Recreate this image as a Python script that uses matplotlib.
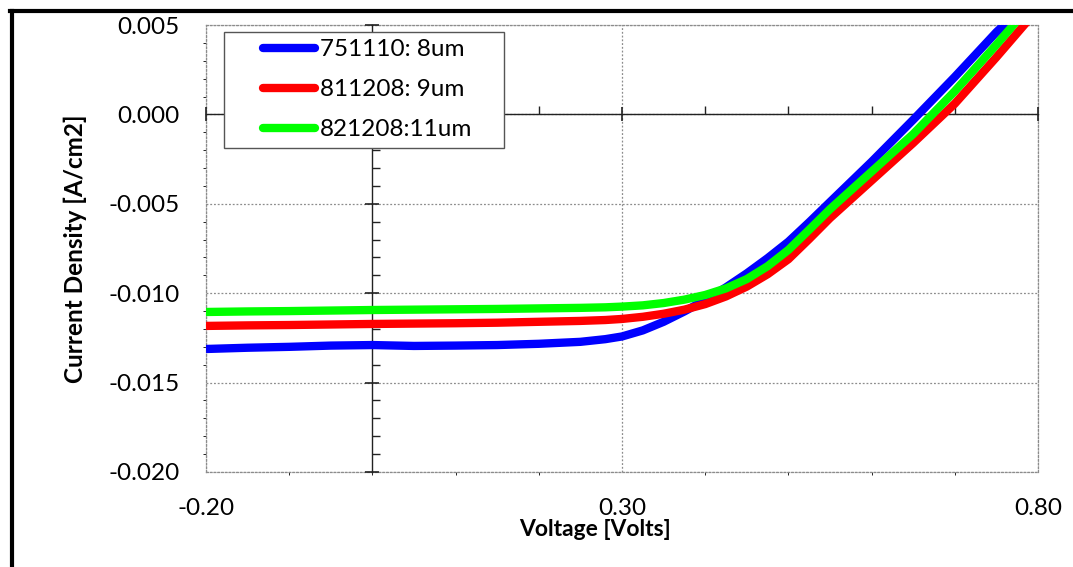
import matplotlib.pyplot as plt
from matplotlib.lines import Line2D
from matplotlib.legend_handler import HandlerLine2D
from matplotlib.ticker import MultipleLocator, FixedLocator, FormatStrFormatter

# J-V curves
voltage = [-0.20, -0.15, -0.10, -0.05, 0.00, 0.05, 0.10, 0.15, 0.20, 0.25, 0.28, 0.30,
           0.325, 0.35, 0.375, 0.40, 0.425, 0.45, 0.475, 0.50, 0.525, 0.55, 0.60, 0.65,
           0.70, 0.75, 0.80]

j_751110 = [-0.01312, -0.01305, -0.01300, -0.01293, -0.01290, -0.01295, -0.01293, -0.01290,
            -0.01283, -0.01272, -0.01257, -0.01242, -0.01208, -0.01160, -0.01102, -0.01038,
            -0.00967, -0.00889, -0.00804, -0.00712, -0.00603, -0.00490, -0.00265, -0.00030,
            0.00210, 0.00460, 0.00680]
j_811208 = [-0.01183, -0.01180, -0.01178, -0.01175, -0.01172, -0.01170, -0.01168, -0.01165,
            -0.01160, -0.01155, -0.01150, -0.01144, -0.01132, -0.01115, -0.01092, -0.01061,
            -0.01018, -0.00963, -0.00894, -0.00810, -0.00697, -0.00580, -0.00370, -0.00160,
            0.00060, 0.00320, 0.00590]
j_821208 = [-0.01105, -0.01102, -0.01100, -0.01097, -0.01094, -0.01092, -0.01090, -0.01088,
            -0.01085, -0.01082, -0.01079, -0.01075, -0.01068, -0.01055, -0.01036, -0.01010,
            -0.00973, -0.00921, -0.00849, -0.00758, -0.00645, -0.00530, -0.00320, -0.00110,
            0.00130, 0.00390, 0.00660]

labels = ["751110: 8um", "811208: 9um", "821208:11um"]
colors = ["#0000ff", "#ff0000", "#00ff00"]
x_ticks = [-0.2, 0.3, 0.8]


class InsetLineHandler(HandlerLine2D):
    """Legend line that starts some way into the handle box (Excel look)."""
    def create_artists(self, legend, orig_handle, xdescent, ydescent, width, height,
                       fontsize, trans):
        artists = super().create_artists(legend, orig_handle, xdescent, ydescent, width,
                                         height, fontsize, trans)
        line = artists[0]
        xd = line.get_xdata()
        x0, x1 = xd[0], xd[-1]
        line.set_xdata([x0 + 0.36 * (x1 - x0), x1 - 0.04 * (x1 - x0)])
        line.set_ydata([line.get_ydata()[0]] * 2)
        line.set_solid_capstyle('round')
        return artists


plt.rcParams['font.family'] = ['Lato', 'DejaVu Sans']

fig = plt.figure(figsize=(10.73, 5.67), dpi=100)
pos = [206 / 1073, 1 - 472 / 567, (1038 - 206) / 1073, (472 - 25) / 567]

# background axes: grid, dotted frame and tick labels at the edges
ax = fig.add_axes(pos)
ax.xaxis.set_major_locator(FixedLocator(x_ticks))
ax.yaxis.set_major_locator(MultipleLocator(0.005))
ax.xaxis.set_major_formatter(FormatStrFormatter('%.2f'))
ax.yaxis.set_major_formatter(FormatStrFormatter('%.3f'))
ax.tick_params(length=0, labelsize=17.5)
ax.tick_params(axis='y', pad=19)
ax.tick_params(axis='x', pad=19)
ax.grid(True, color="#8c8c8c", linestyle=(0, (1.5, 1.5)), linewidth=0.9)
for s in ax.spines.values():
    s.set_color("#8c8c8c")
    s.set_linestyle((0, (1.5, 1.5)))
    s.set_linewidth(0.9)
ax.set_xlabel("Voltage [Volts]", fontsize=16.5, fontweight="bold")
ax.set_ylabel("Current Density [A/cm2]", fontsize=17.5, fontweight="bold")
ax.xaxis.set_label_coords((595 - 206) / 832, -0.106)
ax.yaxis.set_label_coords(-0.143, 0.5)

# overlay axes: axis lines crossing at the origin, curves and legend
ax2 = fig.add_axes(pos, sharex=ax, sharey=ax)
ax2.patch.set_visible(False)
ax2.spines['left'].set_position(('data', 0))
ax2.spines['bottom'].set_position(('data', 0))
ax2.spines['top'].set_visible(False)
ax2.spines['right'].set_visible(False)
for s in ['left', 'bottom']:
    ax2.spines[s].set_color("#222222")
    ax2.spines[s].set_linewidth(1.0)
ax2.xaxis.set_minor_locator(MultipleLocator(0.1))
ax2.yaxis.set_minor_locator(MultipleLocator(0.001))
ax2.tick_params(which='major', direction='inout', length=10, width=1.2, color='#222222',
                labelleft=False, labelbottom=False)
ax2.tick_params(which='minor', direction='in', length=6, width=1.0, color='#222222')

for j, lab, c in zip([j_751110, j_811208, j_821208], labels, colors):
    ax2.plot(voltage, j, color=c, linewidth=6, label=lab, zorder=3,
             solid_capstyle='butt', solid_joinstyle='round')

ax2.set_xlim(-0.2, 0.8)
ax2.set_ylim(-0.020, 0.005)
ax2.xaxis.set_major_locator(FixedLocator(x_ticks))
ax2.yaxis.set_major_locator(MultipleLocator(0.005))

leg_x0 = (224 - 206) / 832
leg_y1 = 1 - (32 - 25) / 447
leg_w = (504 - 224) / 832
leg = ax2.legend(loc='upper left', bbox_to_anchor=(leg_x0, leg_y1 - 0.3, leg_w, 0.3),
                 mode='expand', fontsize=17.5, frameon=True, fancybox=False, framealpha=1,
                 edgecolor="#555555", handlelength=3.6, handletextpad=0.05,
                 labelspacing=0.78, borderpad=0.3, borderaxespad=0,
                 handler_map={Line2D: InsetLineHandler()})
leg.get_frame().set_linewidth(1.0)
leg.set_zorder(10)

# thick outer frame (left and top edges visible)
fig.add_artist(Line2D([11.5 / 1073, 11.5 / 1073], [0, 1 - 10.5 / 567], color='black',
                      linewidth=3, transform=fig.transFigure))
fig.add_artist(Line2D([10 / 1073, 1], [1 - 10.5 / 567, 1 - 10.5 / 567], color='black',
                      linewidth=3, transform=fig.transFigure))

fig.savefig("out.png", dpi=100)
